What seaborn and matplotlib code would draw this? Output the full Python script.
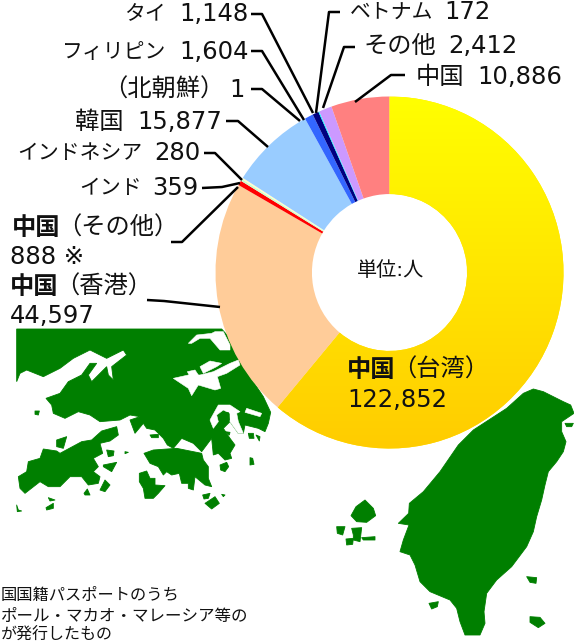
import matplotlib
matplotlib.use("Agg")
import matplotlib.pyplot as plt
import numpy as np
import seaborn as sns
from matplotlib.colors import LinearSegmentedColormap
from matplotlib.patches import Polygon

# ---- data ----
names = ["中国（台湾）", "中国（香港）", "中国（その他）", "インド", "インドネシア", "韓国",
         "（北朝鮮）", "フィリピン", "タイ", "ベトナム", "その他", "中国"]
values = [122852, 44597, 888, 359, 280, 15877, 1, 1604, 1148, 172, 2412, 10886]
wedge_colors = ["#FFE600", "#FFCC99", "#FF0000", "#CCFFCC", "#FFFFCC", "#99CCFF",
                "#3366FF", "#3366FF", "#000080", "#00FFFF", "#CC99FF", "#FF8080"]
unit_label = "単位:人"
footnote = ["国国籍パスポートのうち", "ポール・マカオ・マレーシア等の", "が発行したもの"]

sns.set_theme(style="white")
plt.rcParams["font.family"] = ["DejaVu Sans", "Noto Sans CJK JP"]

W, H = 574, 642
fig = plt.figure(figsize=(W / 100, H / 100), dpi=100, facecolor="white")

# ---- background map (decoration, pixel space) ----
bg = fig.add_axes([0, 0, 1, 1], zorder=0)
bg.set_xlim(0, W)
bg.set_ylim(H, 0)
bg.axis("off")
GREEN = "#007F00"


def c1(points):
    return [(10 + x / 3, 325 + y / 3) for x, y in points]


def c2(points):
    return [(130 + x / 3, 325 + y / 3) for x, y in points]


def c3(points):
    return [(330 + x / 3, 385 + y / 3) for x, y in points]


mainland = (
    c2([(275, 12), (300, 40), (350, 140), (400, 215), (422, 262), (415, 295), (405, 320), (385, 310),
        (345, 300), (340, 325), (325, 325), (300, 290), (280, 310), (300, 340), (315, 360), (300, 385),
        (305, 400), (285, 405), (265, 385), (250, 390), (245, 340), (215, 380), (190, 355), (155, 340),
        (130, 370), (112, 360), (100, 340), (75, 315), (50, 310), (40, 295), (15, 325), (0, 285),
        (30, 275), (0, 270)])
    + c1([(330, 285), (270, 290), (240, 270), (205, 260), (165, 280), (130, 265), (125, 240), (108, 220),
          (150, 205), (175, 170), (215, 150), (240, 115), (260, 115), (235, 150), (245, 170), (290, 125),
          (295, 150), (310, 165), (305, 125), (350, 90), (340, 75), (290, 100), (240, 75), (190, 100),
          (150, 130), (100, 155), (50, 135), (30, 145), (20, 170), (20, 12)])
)
land = [
    mainland,
    # Lantau and islets
    c1([(25, 455), (50, 440), (55, 410), (90, 400), (100, 372), (140, 378), (150, 385), (215, 350),
        (245, 345), (275, 318), (320, 305), (325, 330), (300, 348), (270, 355), (278, 385), (250, 400),
        (265, 425), (250, 440), (270, 455), (265, 475), (235, 480), (215, 455), (180, 455), (150, 485),
        (115, 485), (90, 470), (45, 505), (30, 490)]),
    c1([(140, 345), (170, 335), (160, 370), (140, 365)]),
    c1([(75, 258), (88, 258), (85, 270), (75, 268)]),
    c1([(290, 375), (312, 378), (310, 392), (295, 395)]),
    c1([(345, 380), (355, 382), (345, 386)]),
    c1([(280, 420), (320, 412), (305, 440), (280, 425)]),
    c1([(222, 505), (232, 492), (240, 510), (225, 510)]),
    c1([(270, 495), (285, 465), (300, 480), (285, 500)]),
    c1([(115, 518), (135, 525), (120, 528)]),
    c1([(108, 548), (130, 535), (130, 550), (110, 555)]),
    c1([(20, 540), (25, 555), (35, 558), (22, 560)]),
    # Hong Kong Island, Lamma and islets
    c2([(42, 385), (70, 375), (140, 370), (165, 375), (215, 385), (220, 405), (235, 425), (235, 460),
        (245, 485), (225, 480), (195, 455), (190, 495), (175, 490), (175, 475), (155, 475), (148, 445),
        (125, 450), (110, 440), (100, 450), (85, 425), (60, 415)]),
    c2([(28, 445), (50, 438), (60, 460), (75, 460), (75, 480), (105, 482), (85, 505), (70, 520),
        (45, 520), (40, 490), (28, 470)]),
    c2([(218, 510), (240, 505), (235, 520), (222, 522)]),
    c2([(225, 535), (255, 515), (268, 535), (245, 552)]),
    c2([(275, 508), (285, 510), (280, 515)]),
    c2([(270, 420), (290, 412), (296, 425), (285, 440), (272, 435)]),
    c2([(360, 398), (368, 400), (372, 418), (360, 420)]),
    c2([(60, 330), (85, 328), (85, 338), (65, 338)]),
    c2([(355, 325), (370, 325), (372, 340), (358, 340)]),
    c2([(378, 330), (390, 335), (388, 348)]),
    c2([(285, 320), (300, 322), (298, 330)]),
    # Taiwan
    c3([(610, 12), (640, 20), (670, 35), (700, 50), (722, 60), (732, 85), (695, 110), (695, 140),
        (708, 170), (700, 200), (680, 230), (655, 260), (645, 300), (635, 345), (620, 395), (610, 440),
        (590, 485), (545, 545), (500, 585), (470, 625), (462, 680), (465, 715), (450, 750), (405, 750),
        (390, 710), (380, 670), (360, 645), (300, 620), (270, 590), (255, 540), (240, 510), (210, 500),
        (220, 465), (237, 420), (205, 415), (236, 385), (238, 355), (280, 320), (330, 260), (385, 180),
        (430, 135), (530, 70), (580, 25)]),
    c3([(105, 345), (130, 370), (137, 392), (110, 412), (80, 410), (63, 392), (78, 365)]),
    c3([(20, 425), (45, 425), (38, 450), (22, 445)]),
    c3([(65, 430), (95, 428), (90, 470), (70, 465), (70, 450)]),
    c3([(95, 458), (135, 455), (135, 465), (100, 465)]),
    c3([(48, 462), (70, 460), (68, 478), (50, 480)]),
    c3([(705, 115), (730, 115), (725, 125), (710, 125)]),
    c3([(590, 575), (620, 578), (618, 595), (600, 592)]),
    c3([(600, 695), (630, 697), (645, 715), (625, 728), (600, 712)]),
    c3([(297, 655), (325, 650), (322, 665), (305, 672)]),
]
water = [
    c2([(175, 55), (200, 30), (245, 25), (255, 20), (280, 20), (300, 60), (300, 75), (270, 75),
        (240, 40), (210, 40), (185, 55)]),
    c2([(130, 160), (175, 150), (210, 150), (250, 140), (300, 115), (325, 105), (330, 120), (290, 145),
        (262, 155), (272, 190), (255, 195), (205, 180), (185, 212), (175, 190)]),
    c2([(172, 140), (195, 135), (205, 150), (180, 155)]),
    c2([(210, 125), (240, 108), (275, 115), (260, 125), (220, 145)]),
    c2([(350, 250), (395, 265), (390, 275), (345, 262)]),
    c2([(265, 240), (300, 240), (330, 260), (320, 265), (325, 290), (340, 325), (325, 325), (300, 290),
        (300, 265), (280, 255), (260, 270), (265, 290), (250, 310), (240, 285)]),
]
for poly in land[:1]:
    bg.add_patch(Polygon(poly, closed=True, fc=GREEN, ec=GREEN, lw=0.6))
for poly in water:
    bg.add_patch(Polygon(poly, closed=True, fc="white", ec="white", lw=0.4))
for poly in land[1:]:
    bg.add_patch(Polygon(poly, closed=True, fc=GREEN, ec=GREEN, lw=0.6, joinstyle="round"))
bg.add_patch(Polygon(c2([(280, 262), (295, 262), (298, 285), (285, 282)]), closed=True, fc=GREEN, ec=GREEN, lw=0.4))

# ---- donut ----
cx, cy, rx, ry = 389.5, 272.5, 174, 176
ax = fig.add_axes([(cx - rx) / W, 1 - (cy + ry) / H, 2 * rx / W, 2 * ry / H], zorder=1)
ax.patch.set_alpha(0)
palette = sns.color_palette(wedge_colors)
wedges, _ = ax.pie(values, colors=palette, startangle=90, counterclock=False, radius=1,
                   wedgeprops=dict(width=1 - 78 / 175, linewidth=0))
ax.set_aspect("auto")
ax.set_axis_off()
cmap = LinearSegmentedColormap.from_list("taiwan", ["#FFFF00", "#FFCC00"])
grad = ax.imshow(np.linspace(0, 1, 256)[:, None], extent=(-1, 1, -1, 1), cmap=cmap,
                 aspect="auto", origin="upper", zorder=2)
grad.set_clip_path(wedges[0])
ax.set_xlim(-1, 1)
ax.set_ylim(-1, 1)

# ---- labels & leaders (pixel space) ----
fg = fig.add_axes([0, 0, 1, 1], zorder=2)
fg.set_xlim(0, W)
fg.set_ylim(H, 0)
fg.axis("off")
fg.patch.set_alpha(0)

FS = 17.5
KANA = 15
TXT = "#111111"


def put(x, y, s, ha="left", weight="normal", size=FS):
    fg.text(x, y, s, ha=ha, va="center", fontsize=size, color=TXT, fontweight=weight)


def pair(i, name_right, value_right, y, size=FS):
    put(name_right, y, names[i], "right", size=size)
    put(value_right, y, f"{values[i]:,}", "right")


pair(8, 166, 249, 14, KANA)
pair(7, 166, 249, 52, KANA)
pair(6, 224, 245, 90)
pair(5, 124, 222, 122)
pair(4, 142, 200, 153, KANA)
pair(3, 142, 198, 188, KANA)
pair(9, 433, 491, 12, KANA)
pair(10, 436, 518, 46)
pair(11, 464, 562, 77)

put(12, 228, names[2][:2], weight="bold")
put(57, 228, names[2][2:])
put(10, 257, f"{values[2]:,} ※")
put(10, 287, names[1][:2], weight="bold")
put(55, 287, names[1][2:])
put(10, 316, f"{values[1]:,}")
put(347, 370, names[0][:2], weight="bold")
put(392, 370, names[0][2:])
put(347, 400, f"{values[0]:,}")
put(391, 270, unit_label, "center", size=14.5)

for y_, size_, s in zip([595, 616, 635], [11.7, 11.9, 11.5], footnote):
    put(1, y_, s, size=size_)

leaders = [
    [(251, 14), (262, 14), (313, 113)],
    [(340, 12), (329, 12), (316, 113)],
    [(355, 47), (344, 47), (323, 108)],
    [(405, 75), (391, 75), (355, 102)],
    [(251, 51), (262, 51), (304, 120)],
    [(251, 89), (262, 89), (300, 121)],
    [(226, 121), (238, 121), (268, 147)],
    [(204, 153), (215, 153), (242, 180)],
    [(202, 188), (222, 187), (240, 183)],
    [(171, 242), (182, 242), (238, 187)],
    [(147, 300), (164, 301), (220, 307)],
]
for seg in leaders:
    xs, ys = zip(*seg)
    fg.plot(xs, ys, color="black", lw=1.8, solid_capstyle="butt")

fig.savefig("out.png", dpi=100)
